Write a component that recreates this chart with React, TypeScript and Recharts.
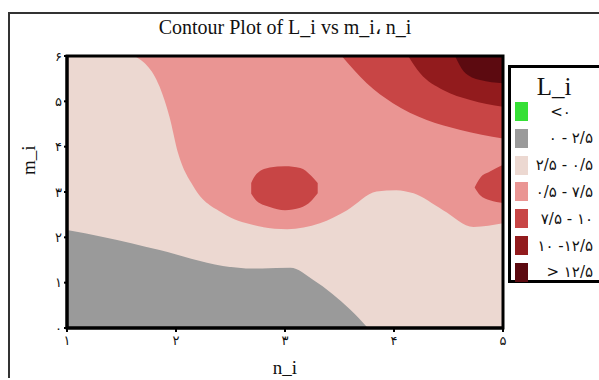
import React from "react";
import {
  ComposedChart,
  Area,
  XAxis,
  YAxis,
  ReferenceArea,
} from "recharts";

// n_i / m_i ticks
const xTicks = [1, 2, 3, 4, 5];
const yTicks = [0, 1, 2, 3, 4, 5, 6];

// contour edges: [n_i, m_i]
const grayTop: [number, number][] = [
  [1, 2.16], [1.33, 2.01], [1.85, 1.72], [2.43, 1.37], [2.71, 1.31],
  [3.05, 1.33], [3.26, 1.06], [3.6, 0.4], [3.76, 0],
];
const pinkBottom: [number, number][] = [
  [1.62, 6], [1.85, 5.32], [1.94, 4.66], [2.02, 3.85], [2.16, 3.12],
  [2.43, 2.53], [2.71, 2.27], [3.02, 2.18], [3.32, 2.31], [3.57, 2.6],
  [3.84, 3.01], [4.02, 3.04], [4.18, 2.97], [4.45, 2.6], [4.73, 2.23],
  [5, 2.31],
];
const redBottom: [number, number][] = [
  [3.52, 6], [3.75, 5.4], [3.99, 4.96], [4.3, 4.59], [4.61, 4.37], [5, 4.18],
];
const darkBottom: [number, number][] = [
  [4.13, 6], [4.24, 5.62], [4.45, 5.25], [4.7, 5.03], [5, 4.88],
];
const darkestBottom: [number, number][] = [
  [4.56, 6], [4.64, 5.66], [4.79, 5.47], [5, 5.4],
];
// closed patches: [n_i, low, high]
const centerBlob: [number, number, number][] = [
  [2.69, 2.96, 3.2], [2.74, 2.8, 3.4], [2.86, 2.67, 3.54], [3.0, 2.6, 3.57],
  [3.14, 2.65, 3.53], [3.24, 2.8, 3.36], [3.3, 2.97, 3.2],
];
const rightBlob: [number, number, number][] = [
  [4.74, 3.1, 3.1], [4.79, 2.93, 3.31], [4.88, 2.82, 3.45], [5, 2.76, 3.6],
];

const legendLabels = [
  "<۰",
  "۰ - ۲/۵",
  "۲/۵ - ۰/۵",
  "۰/۵ - ۷/۵",
  "۷/۵ - ۱۰",
  "۱۰ -۱۲/۵",
  "> ۱۲/۵",
];
const legendColors = [
  "#35e035",
  "#9a9a9a",
  "#ecd8d1",
  "#ea9593",
  "#c84545",
  "#921b1d",
  "#5c0a10",
];

const toFa = (v: number | string) =>
  String(v).replace(/\d/g, (d) => "۰۱۲۳۴۵۶۷۸۹"[Number(d)]);

const background = [
  { n: 1, range: [0, 6] },
  { n: 5, range: [0, 6] },
];
const below = (pts: [number, number][]) =>
  pts.map(([n, m]) => ({ n, range: [0, m] }));
const above = (pts: [number, number][]) =>
  pts.map(([n, m]) => ({ n, range: [m, 6] }));
const patch = (pts: [number, number, number][]) =>
  pts.map(([n, lo, hi]) => ({ n, range: [lo, hi] }));

const bands = [
  { data: below(grayTop), color: legendColors[1] },
  { data: above(pinkBottom), color: legendColors[3] },
  { data: above(redBottom), color: legendColors[4] },
  { data: above(darkBottom), color: legendColors[5] },
  { data: above(darkestBottom), color: legendColors[6] },
  { data: patch(centerBlob), color: legendColors[4] },
  { data: patch(rightBlob), color: legendColors[4] },
];

const serif = "'Liberation Serif', 'DejaVu Serif', serif";
const faFont = "'DejaVu Sans', sans-serif";

export default function App() {
  return (
    // fixed so the frame can run past the window edge without scrollbars
    <div
      style={{
        position: "fixed",
        left: 8,
        top: 12,
        width: 589,
        height: 364,
        borderLeft: "2px solid #333",
        borderTop: "2px solid #333",
        overflow: "hidden",
        background: "#fff",
      }}
    >
      <div
        style={{
          position: "absolute",
          left: 0,
          width: 550,
          top: 1,
          textAlign: "center",
          fontFamily: serif,
          fontSize: 20,
          color: "#111",
        }}
      >
        Contour Plot of L_i vs m_i، n_i
      </div>
      <div
        style={{
          position: "absolute",
          left: 6,
          top: 137,
          width: 26,
          textAlign: "center",
          transform: "rotate(-90deg)",
          fontFamily: serif,
          fontSize: 19,
          color: "#111",
        }}
      >
        m_i
      </div>
      <div
        style={{
          position: "absolute",
          left: 250,
          width: 50,
          top: 343,
          textAlign: "center",
          fontFamily: serif,
          fontSize: 19,
          color: "#111",
        }}
      >
        n_i
      </div>

      <ComposedChart
        width={589}
        height={364}
        margin={{ top: 42, right: 96, bottom: 20, left: 17 }}
      >
        <XAxis
          dataKey="n"
          type="number"
          domain={[1, 5]}
          ticks={xTicks}
          allowDataOverflow
          tickFormatter={toFa}
          height={30}
          tickSize={4}
          axisLine={{ stroke: "#000", strokeWidth: 3 }}
          tickLine={{ stroke: "#000", strokeWidth: 2 }}
          tick={{ fill: "#111", fontSize: 13, fontFamily: faFont, dy: 2 }}
        />
        <YAxis
          type="number"
          domain={[0, 6]}
          ticks={yTicks}
          allowDataOverflow
          tickFormatter={toFa}
          width={40}
          tickSize={3}
          axisLine={{ stroke: "#000", strokeWidth: 3 }}
          tickLine={{ stroke: "#000", strokeWidth: 2 }}
          tick={{ fill: "#111", fontSize: 13, fontFamily: faFont }}
        />
        <Area
          data={background}
          dataKey="range"
          type="linear"
          fill={legendColors[2]}
          fillOpacity={1}
          stroke="none"
          dot={false}
          activeDot={false}
          isAnimationActive={false}
        />
        {bands.map((b, i) => (
          <Area
            key={i}
            data={b.data}
            dataKey="range"
            type="monotone"
            fill={b.color}
            fillOpacity={1}
            stroke="none"
            dot={false}
            activeDot={false}
            isAnimationActive={false}
          />
        ))}
        <ReferenceArea
          x1={1}
          x2={5}
          y1={0}
          y2={6}
          fill="none"
          stroke="#000"
          strokeWidth={3}
          ifOverflow="visible"
        />
      </ComposedChart>

      <div
        style={{
          position: "absolute",
          left: 498,
          top: 51,
          width: 96,
          height: 212,
          border: "3px solid #000",
          background: "#fff",
        }}
      >
        <div
          style={{
            position: "absolute",
            left: 0,
            width: 86,
            top: 5,
            textAlign: "center",
            fontFamily: serif,
            fontSize: 25,
            color: "#111",
          }}
        >
          L_i
        </div>
        {legendLabels.map((label, i) => (
          <div
            key={label}
            style={{
              position: "absolute",
              left: 4,
              top: 34 + i * 26.8,
              width: 78,
              height: 19,
              display: "flex",
              alignItems: "center",
            }}
          >
            <div
              style={{
                width: 13,
                height: 19,
                background: legendColors[i],
                flexShrink: 0,
              }}
            />
            <div
              style={{
                flex: 1,
                textAlign: i === 0 ? "center" : "right",
                fontFamily: faFont,
                fontSize: 15,
                color: "#111",
                whiteSpace: "nowrap",
                direction: "ltr",
              }}
            >
              {label}
            </div>
          </div>
        ))}
      </div>
    </div>
  );
}
